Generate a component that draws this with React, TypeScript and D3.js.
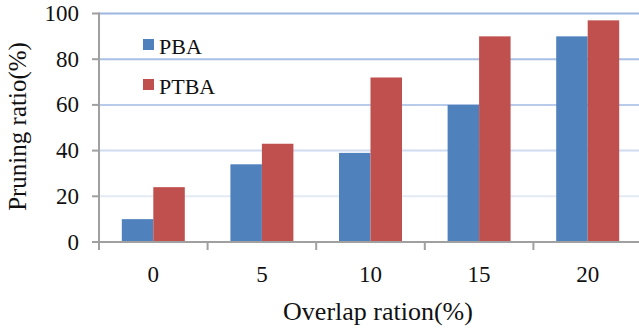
import React from "react";
import * as d3 from "d3";

const categories = ["0", "5", "10", "15", "20"];
const seriesNames = ["PBA", "PTBA"];
const pbaValues = [10, 34, 39, 60, 90];
const ptbaValues = [24, 43, 72, 90, 97];
const yTicks = [0, 20, 40, 60, 80, 100];
const colors = ["#4f81bd", "#c0504d"];
const gridColors = ["#9db6e0", "#a9c0e5", "#b9cbea", "#d0dcf1", "#e3eaf6"];

const W = 639;
const H = 328;
const left = 99;
const right = 642;
const top = 13.5;
const bottom = 242;
const FONT = "Liberation Serif";

export default function App() {
  const x = d3.scaleBand<string>().domain(categories).range([left, right]).paddingInner(0.42).paddingOuter(0.21);
  const y = d3.scaleLinear().domain([0, 100]).range([bottom, top]);
  const series = [pbaValues, ptbaValues];
  const bw = x.bandwidth() / 2;
  const step = (right - left) / categories.length;

  return (
    <svg width={W} height={H} style={{ position: "absolute", left: 0, top: 0, background: "#fff" }}>
      {yTicks.filter((t) => t > 0).map((t, i) => (
        <line key={t} x1={left} x2={W} y1={y(t)} y2={y(t)} stroke={gridColors[yTicks.length - 2 - i] ?? gridColors[0]} strokeWidth={2} />
      ))}
      {categories.map((c, ci) =>
        series.map((s, si) => (
          <rect key={c + si} x={(x(c) as number) + si * bw} y={y(s[ci])} width={bw} height={y(0) - y(s[ci])} fill={colors[si]} />
        ))
      )}
      <line x1={left} x2={left} y1={top - 1} y2={bottom} stroke="#a0a0a0" strokeWidth={2} />
      <line x1={left - 1} x2={W} y1={bottom} y2={bottom} stroke="#a0a0a0" strokeWidth={2} />
      {yTicks.map((t) => (
        <g key={t}>
          <line x1={left - 7} x2={left} y1={y(t)} y2={y(t)} stroke="#a0a0a0" strokeWidth={2} />
          <text x={79} y={y(t) + 7.5} textAnchor="end" fontSize={23} fontFamily={FONT} fill="#111">{t}</text>
        </g>
      ))}
      {d3.range(categories.length + 1).map((i) => (
        <line key={i} x1={left + i * step} x2={left + i * step} y1={bottom} y2={bottom + 8} stroke="#a0a0a0" strokeWidth={2} />
      ))}
      {categories.map((c) => (
        <text key={c} x={(x(c) as number) + x.bandwidth() / 2} y={282} textAnchor="middle" fontSize={23} fontFamily={FONT} fill="#111">{c}</text>
      ))}
      {seriesNames.map((n, i) => (
        <g key={n}>
          <rect x={143} y={39 + i * 40} width={11} height={11} fill={colors[i]} />
          <text x={159} y={53.5 + i * 40} fontSize={22} fontFamily={FONT} fill="#111">{n}</text>
        </g>
      ))}
      <text x={378} y={320} textAnchor="middle" fontSize={26} fontFamily={FONT} fill="#111">Overlap ration(%)</text>
      <text transform={`translate(25.5,126.5) rotate(-90)`} textAnchor="middle" fontSize={25} fontFamily={FONT} fill="#111">Pruning ratio(%)</text>
    </svg>
  );
}
